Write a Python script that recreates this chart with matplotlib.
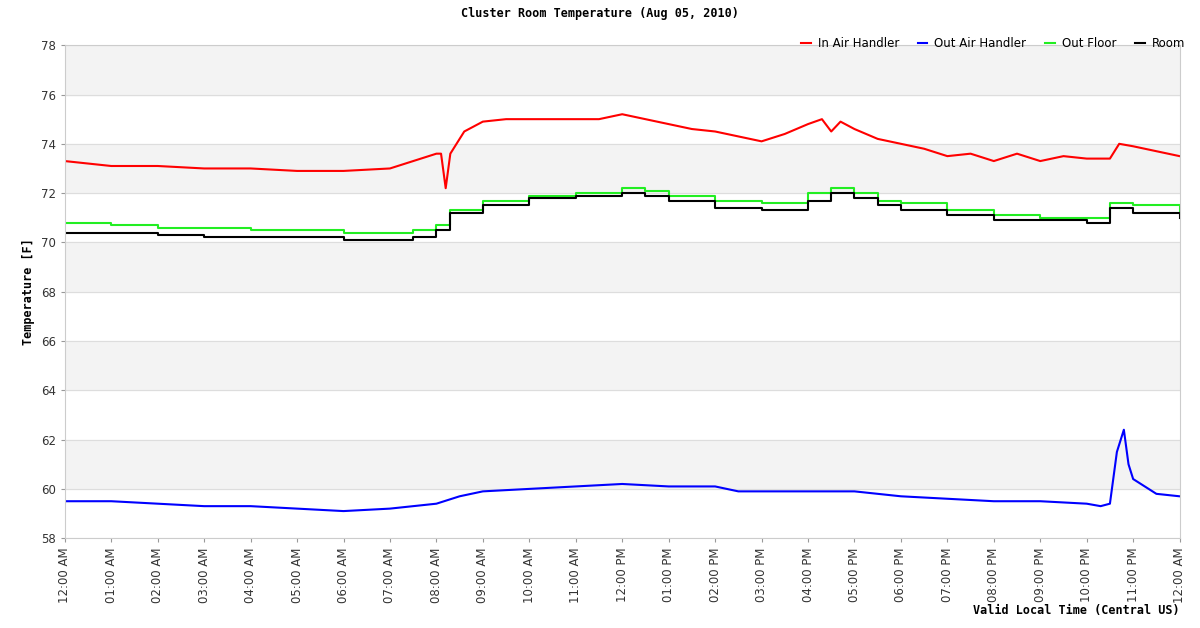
import matplotlib
matplotlib.use("Agg")
import matplotlib.pyplot as plt

red_h = [0,1,2,3,4,5,6,7,7.5,8,8.1,8.2,8.3,8.6,9,9.5,10,10.5,11,11.5,12,12.5,13,13.5,14,14.5,15,15.5,16,16.3,16.5,16.7,17,17.5,18,18.5,19,19.5,20,20.5,21,21.5,22,22.5,22.7,23,23.5,24]
red_v = [73.3,73.1,73.1,73.0,73.0,72.9,72.9,73.0,73.3,73.6,73.6,72.2,73.6,74.5,74.9,75.0,75.0,75.0,75.0,75.0,75.2,75.0,74.8,74.6,74.5,74.3,74.1,74.4,74.8,75.0,74.5,74.9,74.6,74.2,74.0,73.8,73.5,73.6,73.3,73.6,73.3,73.5,73.4,73.4,74.0,73.9,73.7,73.5]

green_h = [0,1,2,3,4,5,6,7,7.5,8,8.3,9,10,11,12,12.5,13,14,15,16,16.5,17,17.5,18,19,20,21,22,22.5,23,24]
green_v = [70.8,70.7,70.6,70.6,70.5,70.5,70.4,70.4,70.5,70.7,71.3,71.7,71.9,72.0,72.2,72.1,71.9,71.7,71.6,72.0,72.2,72.0,71.7,71.6,71.3,71.1,71.0,71.0,71.6,71.5,71.2]

black_h = green_h
black_v = [70.4,70.4,70.3,70.2,70.2,70.2,70.1,70.1,70.2,70.5,71.2,71.5,71.8,71.9,72.0,71.9,71.7,71.4,71.3,71.7,72.0,71.8,71.5,71.3,71.1,70.9,70.9,70.8,71.4,71.2,71.0]

blue_h = [0,1,2,3,4,5,6,7,7.5,8,8.5,9,10,11,12,13,14,14.5,15,16,17,17.5,18,19,20,21,22,22.3,22.5,22.65,22.8,22.9,23,23.5,24]
blue_v = [59.5,59.5,59.4,59.3,59.3,59.2,59.1,59.2,59.3,59.4,59.7,59.9,60.0,60.1,60.2,60.1,60.1,59.9,59.9,59.9,59.9,59.8,59.7,59.6,59.5,59.5,59.4,59.3,59.4,61.5,62.4,61.0,60.4,59.8,59.7]

tick_labels = ["12:00 AM"] + [f"{h:02d}:00 AM" for h in range(1, 12)] + ["12:00 PM"] + \
              [f"{h:02d}:00 PM" for h in range(1, 12)] + ["12:00 AM"]

fig = plt.figure(figsize=(12, 6.28), dpi=100)
ax = fig.add_axes([0.054, 0.143, 0.929, 0.785])
for lo in range(60, 78, 4):
    ax.axhspan(lo, lo + 2, color="#f3f3f3", zorder=0)
ax.axhspan(76, 78, color="#f3f3f3", zorder=0)
ax.grid(axis="y", color="#dddddd", lw=0.8)
ax.set_axisbelow(True)

ax.plot(red_h, red_v, color="red", lw=1.5, label="In Air Handler")
ax.plot(blue_h, blue_v, color="blue", lw=1.5, label="Out Air Handler")
ax.plot(green_h, green_v, color="#22ee22", lw=1.5, drawstyle="steps-post", label="Out Floor")
ax.plot(black_h, black_v, color="black", lw=1.5, drawstyle="steps-post", label="Room")

ax.set_xlim(0, 24)
ax.set_ylim(58, 78)
ax.set_yticks(range(58, 79, 2))
ax.set_xticks(range(25))
ax.set_xticklabels(tick_labels, rotation=90, fontsize=8.5, color="#333333")
ax.tick_params(axis="y", labelsize=8.5, colors="#333333")
ax.tick_params(length=3, color="#999999")
for s in ax.spines.values():
    s.set_color("#cccccc")

mono = dict(family="DejaVu Sans Mono", fontweight="bold", fontsize=8.5)
fig.text(0.5, 0.979, "Cluster Room Temperature (Aug 05, 2010)", ha="center", va="center", **mono)
ax.set_ylabel("Temperature [F]", **mono)
fig.text(0.983, 0.028, "Valid Local Time (Central US)", ha="right", va="center", **mono)

leg = ax.legend(loc="lower right", bbox_to_anchor=(1.005, 0.99), ncol=4, frameon=False,
                fontsize=8.5, handlelength=0.8, handletextpad=0.6, columnspacing=1.6,
                borderaxespad=0, borderpad=0)
fig.savefig("out.png")
